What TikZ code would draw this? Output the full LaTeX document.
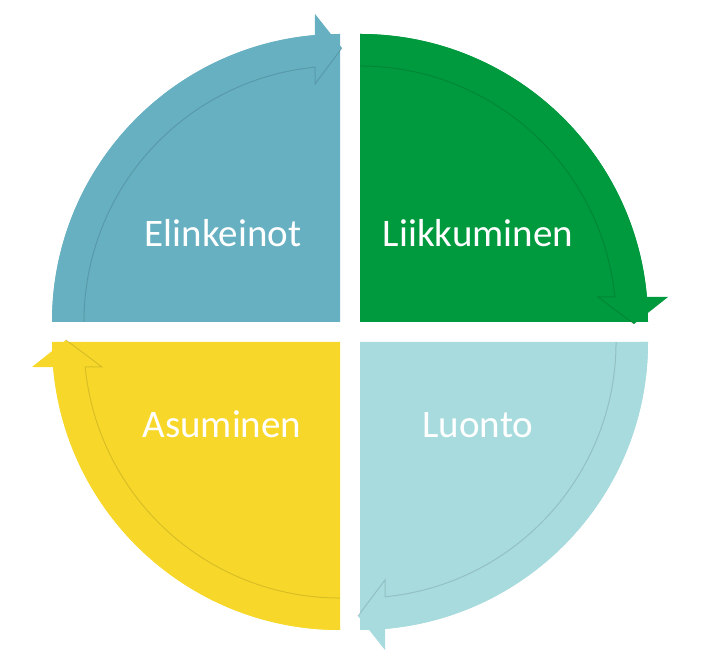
\documentclass[tikz,border=0pt]{standalone}
\usepackage{fontspec}
\setmainfont{Carlito}
\definecolor{elinblue}{RGB}{102,176,194}
\definecolor{liikgreen}{RGB}{0,154,62}
\definecolor{luontoteal}{RGB}{168,219,221}
\definecolor{asumyellow}{RGB}{247,216,42}
\tikzset{
  pics/quarter/.style={code={
    \path[pic actions] (0,0) -- (180:288) arc[start angle=180, end angle=90, radius=288] -- cycle;
    \path[pic actions] (180:288) arc[start angle=180, end angle=95, radius=288]
      -- (-25,308) -- (2,274) -- (-25,238) -- (-25,254.8)
      arc[start angle=95.6, end angle=180, radius=256] -- cycle;
    \draw[black, opacity=.12, line width=1] (2,274) -- (-25,238) -- (-25,254.8)
      arc[start angle=95.6, end angle=180, radius=256];
  }}
}

\begin{document}
\begin{tikzpicture}[x=1pt, y=1pt,
  quartertext/.style={text=white, anchor=base, font=\fontsize{39}{44}\selectfont}]
\useasboundingbox (0,0) rectangle (723,668);

\pic[fill=elinblue] at (340,346) {quarter};
\pic[fill=liikgreen, rotate=-90] at (360,346) {quarter};
\pic[fill=luontoteal, rotate=180] at (360,326) {quarter};
\pic[fill=asumyellow, rotate=90] at (340,326) {quarter};

\node[quartertext] (elink) at (223,421) {Elinkeinot};
\node[quartertext] (liik) at (478,421) {Liikkuminen};
\node[quartertext] (asum) at (222,230) {Asuminen};
\node[quartertext] (luonto) at (478,230) {Luonto};
\end{tikzpicture}
\end{document}
